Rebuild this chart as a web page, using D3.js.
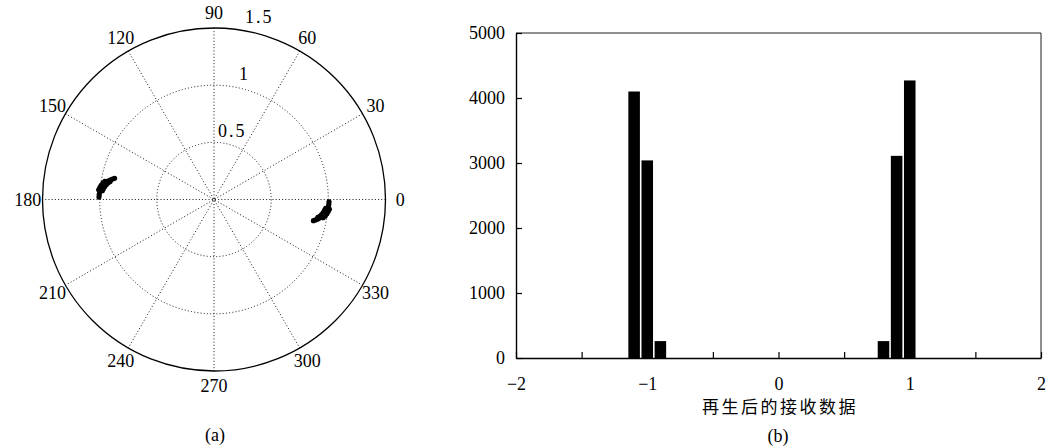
<!DOCTYPE html>
<html>
<head>
<meta charset="utf-8">
<script src="https://cdn.jsdelivr.net/npm/d3@7"></script>
<style>
  html, body { margin: 0; padding: 0; background: #fff; }
  svg { display: block; }
  text { font-family: "Liberation Serif", "DejaVu Serif", serif; fill: #000; }
  .cjk { font-family: "Noto Sans CJK SC", sans-serif; }
</style>
</head>
<body>
<svg id="chart" width="1053" height="448"></svg>
<script>
// ---- (a) polar constellation data: [angle in degrees, radius] ----
const clusterRight = [
  [-1.2, 1.006], [-2.5, 1.005], [-3.8, 1.002], [-5.0, 0.996], [-6.2, 0.988],
  [-7.3, 0.978], [-8.3, 0.966], [-9.2, 0.952], [-10.0, 0.937], [-10.8, 0.921],
  [-11.4, 0.905], [-12.0, 0.889],
  [-4.5, 0.980], [-5.5, 0.972], [-6.8, 0.962], [-8.0, 0.950], [-9.0, 0.937], [-9.8, 0.922],
  [-4.8, 1.012], [-6.0, 1.004], [-7.2, 0.995], [-8.4, 0.983], [-9.5, 0.968]
];
const clusterLeft = [
  [178.8, 1.006], [177.5, 1.005], [176.2, 1.002], [175.0, 0.996], [173.8, 0.988],
  [172.7, 0.978], [171.7, 0.966], [170.8, 0.952], [170.0, 0.937], [169.2, 0.921],
  [168.6, 0.905], [168.0, 0.889],
  [175.5, 0.980], [174.5, 0.972], [173.2, 0.962], [172.0, 0.950], [171.0, 0.937], [170.2, 0.922],
  [175.2, 1.012], [174.0, 1.004], [172.8, 0.995], [171.6, 0.983], [170.5, 0.968]
];
const rGridValues = [0.5, 1.0, 1.5];
const rGridLabels = ["0.5", "1", "1.5"];
const angleTicks = [0, 30, 60, 90, 120, 150, 180, 210, 240, 270, 300, 330];

// ---- (b) histogram of the regenerated received data ----
const binCenters = [-1.1, -1.0, -0.9, 0.8, 0.9, 1.0];
const binCounts = [4100, 3040, 260, 260, 3110, 4270];
const binWidth = 0.1;
const xTickValues = [-2, -1.5, -1, -0.5, 0, 0.5, 1, 1.5, 2];
const xTickLabels = ["−2", "", "−1", "", "0", "", "1", "", "2"];
const yTickValues = [0, 1000, 2000, 3000, 4000, 5000];
const xLabel = "再生后的接收数据";

const svg = d3.select("#chart");
const FS = 18;

// ================= (a) polar plot =================
const cx = 214, cy = 199.5;
const rScale = d3.scaleLinear().domain([0, 1.5]).range([0, 171.5]);
const toXY = (deg, r) => {
  const a = deg * Math.PI / 180;
  return [cx + rScale(r) * Math.cos(a), cy - rScale(r) * Math.sin(a)];
};

const polar = svg.append("g");

// dotted spokes every 30 degrees
polar.selectAll("line.spoke")
  .data(angleTicks.filter(a => a < 180))
  .join("line")
  .attr("x1", d => toXY(d, 1.5)[0]).attr("y1", d => toXY(d, 1.5)[1])
  .attr("x2", d => toXY(d + 180, 1.5)[0]).attr("y2", d => toXY(d + 180, 1.5)[1])
  .attr("stroke", "#000").attr("stroke-width", 0.9)
  .attr("stroke-dasharray", "1,2.2");

// range rings: dotted inside, solid outer edge
polar.selectAll("circle.ring")
  .data(rGridValues)
  .join("circle")
  .attr("cx", cx).attr("cy", cy)
  .attr("r", d => rScale(d))
  .attr("fill", "none")
  .attr("stroke", "#000")
  .attr("stroke-width", d => d === 1.5 ? 1.3 : 0.9)
  .attr("stroke-dasharray", d => d === 1.5 ? null : "1,2.2");

// angle labels around the rim
polar.selectAll("text.ang")
  .data(angleTicks)
  .join("text")
  .attr("x", d => toXY(d, 1.63)[0])
  .attr("y", d => toXY(d, 1.63)[1])
  .attr("text-anchor", "middle")
  .attr("dominant-baseline", "central")
  .attr("font-size", FS)
  .text(d => d);

// radius labels near the 80 degree spoke
const rLabelDx = [4, 25, 31];
polar.selectAll("text.rlab")
  .data(rGridValues)
  .join("text")
  .attr("x", (d, i) => cx + rLabelDx[i])
  .attr("y", d => cy - rScale(d) - 5.5)
  .attr("font-size", FS)
  .attr("letter-spacing", 2)
  .text((d, i) => rGridLabels[i]);

// received symbols
polar.selectAll("circle.sym")
  .data(clusterRight.concat(clusterLeft))
  .join("circle")
  .attr("cx", d => toXY(d[0], d[1])[0])
  .attr("cy", d => toXY(d[0], d[1])[1])
  .attr("r", 2.6)
  .attr("fill", "#000");

svg.append("text")
  .attr("x", 215).attr("y", 441)
  .attr("text-anchor", "middle")
  .attr("font-size", FS)
  .text("(a)");

// ================= (b) histogram =================
const x = d3.scaleLinear().domain([-2, 2]).range([516, 1041]);
const y = d3.scaleLinear().domain([0, 5000]).range([358, 33]);

const hist = svg.append("g");

// bars
hist.selectAll("rect.bar")
  .data(binCenters.map((c, i) => ({ c, n: binCounts[i] })))
  .join("rect")
  .attr("x", d => x(d.c - binWidth * 0.44))
  .attr("width", d => x(d.c + binWidth * 0.44) - x(d.c - binWidth * 0.44))
  .attr("y", d => y(d.n))
  .attr("height", d => y(0) - y(d.n))
  .attr("fill", "#000");

// frame: top and right edges
hist.append("line")
  .attr("x1", x(-2)).attr("x2", x(2)).attr("y1", y(5000)).attr("y2", y(5000))
  .attr("stroke", "#222").attr("stroke-width", 1.1);
hist.append("line")
  .attr("x1", x(2)).attr("x2", x(2)).attr("y1", y(5000)).attr("y2", y(0))
  .attr("stroke", "#333").attr("stroke-width", 1.1);

// bottom axis with inward ticks
const xAxis = d3.axisBottom(x)
  .tickValues(xTickValues)
  .tickSizeInner(-6).tickSizeOuter(0)
  .tickPadding(19)
  .tickFormat((d, i) => xTickLabels[i]);
const gx = hist.append("g").attr("transform", `translate(0,${y(0)})`).call(xAxis);

// left axis with inward ticks
const yAxis = d3.axisLeft(y)
  .tickValues(yTickValues)
  .tickSizeInner(-6).tickSizeOuter(0)
  .tickPadding(11)
  .tickFormat(d3.format("d"));
const gy = hist.append("g").attr("transform", `translate(${x(-2)},0)`).call(yAxis);

[gx, gy].forEach(g => {
  g.select(".domain").attr("stroke", "#000").attr("stroke-width", 1.4);
  g.selectAll(".tick line").attr("stroke", "#000").attr("stroke-width", 1.2);
  g.selectAll(".tick text")
    .attr("font-family", "'Liberation Serif', 'DejaVu Serif', serif")
    .attr("font-size", FS)
    .attr("fill", "#000");
});

svg.append("text")
  .attr("class", "cjk")
  .attr("x", 780).attr("y", 413)
  .attr("text-anchor", "middle")
  .attr("font-size", 17)
  .attr("letter-spacing", 2.5)
  .text(xLabel);

svg.append("text")
  .attr("x", 778).attr("y", 442)
  .attr("text-anchor", "middle")
  .attr("font-size", FS)
  .text("(b)");
</script>
</body>
</html>
